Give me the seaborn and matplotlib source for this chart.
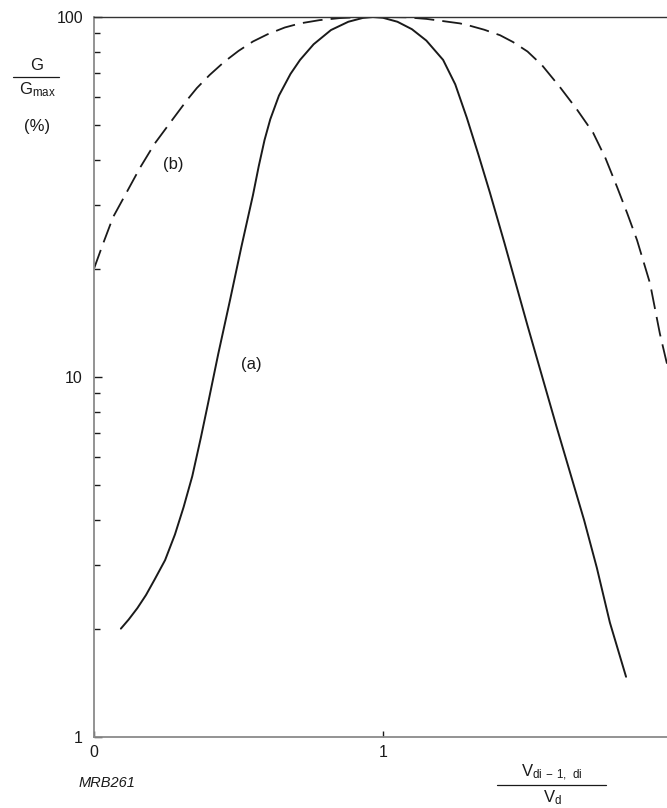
import numpy as np
import pandas as pd
import matplotlib
matplotlib.use('Agg')
import matplotlib.pyplot as plt
import matplotlib.ticker as mticker
from matplotlib.lines import Line2D
import seaborn as sns

# Values
ratio_a = [0.093, 0.12, 0.15, 0.18, 0.21, 0.246, 0.28, 0.31, 0.34, 0.37, 0.394, 0.43,
           0.471, 0.51, 0.55, 0.57, 0.59, 0.61, 0.64, 0.68, 0.713, 0.76, 0.82, 0.88,
           0.93, 0.965, 1.0, 1.05, 1.10, 1.15, 1.208, 1.25, 1.29, 1.33, 1.37, 1.42,
           1.50, 1.60, 1.696, 1.74, 1.785, 1.841]
gain_a = [2.0, 2.12, 2.28, 2.48, 2.74, 3.1, 3.65, 4.35, 5.3, 6.8, 8.4, 11.6,
          16.4, 23.0, 32.0, 38.5, 45.5, 52.0, 60.5, 69.5, 76.0, 84.0, 92.0, 97.0,
          99.4, 100.0, 99.5, 97.0, 92.5, 86.0, 76.0, 65.0, 52.5, 41.5, 32.5, 23.6,
          13.9, 7.3, 4.0, 2.95, 2.08, 1.47]

ratio_b = [0.0, 0.03, 0.066, 0.114, 0.159, 0.21, 0.263, 0.322, 0.356, 0.40, 0.45, 0.50,
           0.55, 0.60, 0.66, 0.713, 0.78, 0.85, 0.92, 1.0, 1.08, 1.15, 1.20, 1.266,
           1.30, 1.35, 1.405, 1.45, 1.50, 1.55, 1.612, 1.67, 1.727, 1.77, 1.81, 1.845,
           1.879, 1.924, 1.958, 1.98, 2.0]
gain_b = [20.0, 23.3, 27.8, 32.7, 38.1, 44.5, 50.8, 58.8, 63.5, 69.0, 75.0, 80.5,
          85.5, 89.5, 93.5, 96.0, 98.0, 99.3, 99.9, 100.0, 99.8, 98.8, 97.6, 96.0,
          94.6, 92.2, 89.0, 85.2, 80.2, 73.5, 63.9, 55.5, 47.7, 40.5, 33.7, 28.5,
          24.0, 18.2, 13.2, 11.1, 9.6]

df_a = pd.DataFrame({'ratio': ratio_a, 'gain': gain_a})
df_b = pd.DataFrame({'ratio': ratio_b, 'gain': gain_b})

sns.set_style('ticks')
plt.rcParams['font.family'] = ['Liberation Sans', 'DejaVu Sans']
plt.rcParams['mathtext.default'] = 'regular'

fig = plt.figure(figsize=(6.67, 8.08), dpi=100)
# axes runs past the right edge, like the cropped original
ax = fig.add_axes([94 / 667, 71 / 808, 578 / 667, 720 / 808])

sns.lineplot(data=df_a, x='ratio', y='gain', ax=ax, color='#1a1a1a', linewidth=1.4,
             sort=False, estimator=None)
sns.lineplot(data=df_b, x='ratio', y='gain', ax=ax, color='#1a1a1a', linewidth=1.3,
             sort=False, estimator=None)
ax.lines[1].set_dashes((11, 4.5))
for ln in ax.lines:
    ln.set_solid_joinstyle('round')
    ln.set_dash_joinstyle('round')

ax.set_yscale('log')
ax.set_ylim(1, 100)
ax.set_xlim(0, 2)
ax.yaxis.set_major_locator(mticker.FixedLocator([1, 10, 100]))
ax.yaxis.set_major_formatter(mticker.FixedFormatter(['1', '10', '100']))
ax.yaxis.set_minor_locator(mticker.LogLocator(base=10, subs=np.arange(2, 10)))
ax.yaxis.set_minor_formatter(mticker.NullFormatter())
ax.set_xticks([0, 1, 2])
ax.set_xticklabels(['0', '1', '2'])

ax.tick_params(axis='both', which='both', direction='in', colors='#1a1a1a',
               labelcolor='#1a1a1a', labelsize=11.5)
ax.tick_params(axis='y', which='major', length=5.5, width=1.0, pad=8)
ax.tick_params(axis='y', which='minor', length=4.5, width=1.0)
ax.tick_params(axis='x', which='major', length=4.5, width=1.0, pad=6)

ax.set_xlabel('')
ax.set_ylabel('')
for side in ['left', 'bottom']:
    ax.spines[side].set_color('#8a8a8a')
    ax.spines[side].set_linewidth(1.3)
ax.spines['top'].set_visible(True)
ax.spines['top'].set_color('#333333')
ax.spines['top'].set_linewidth(1.0)
ax.spines['right'].set_visible(False)

# curve labels
ax.text(0.544, 10 ** (2 - 347 / 360), '(a)', fontsize=12, ha='center', va='center', color='#1a1a1a')
ax.text(0.273, 10 ** (2 - 147 / 360), '(b)', fontsize=12, ha='center', va='center', color='#1a1a1a')

# y axis label as a fraction
fig.text(37 / 667, 1 - 66 / 808, 'G', fontsize=12, ha='center', va='center', color='#1a1a1a')
fig.add_artist(Line2D([13 / 667, 59 / 667], [1 - 77 / 808, 1 - 77 / 808],
                      color='#1a1a1a', linewidth=0.9))
fig.text(37 / 667, 1 - 90 / 808, '$G_{max}$', fontsize=12, ha='center', va='center', color='#1a1a1a')
fig.text(37 / 667, 1 - 127 / 808, '(%)', fontsize=12, ha='center', va='center', color='#1a1a1a')

# x axis label as a fraction
fig.text(552 / 667, 1 - 773 / 808, '$V_{di\\,-\\,1,\\ di}$', fontsize=12, ha='center', va='center',
         color='#1a1a1a')
fig.add_artist(Line2D([497 / 667, 606 / 667], [1 - 785 / 808, 1 - 785 / 808],
                      color='#1a1a1a', linewidth=0.9))
fig.text(552 / 667, 1 - 798 / 808, '$V_{d}$', fontsize=12, ha='center', va='center', color='#1a1a1a')

fig.text(79 / 667, 1 - 783 / 808, 'MRB261', fontsize=10.5, style='italic', ha='left', va='center',
         color='#1a1a1a')

fig.savefig('out.png', dpi=100)
